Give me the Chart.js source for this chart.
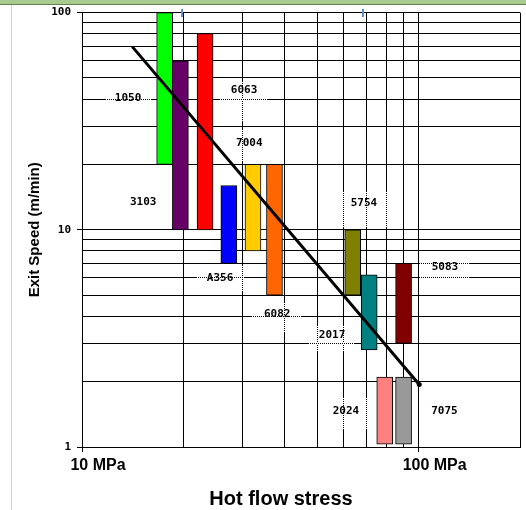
<!DOCTYPE html>
<html lang="en">
<head>
    <meta charset="UTF-8">
    <title>Exit speed vs hot flow stress</title>
    <script src="https://cdn.jsdelivr.net/npm/chart.js@4"></script>
    <style>
        body {
            margin: 0;
            background: #fff;
        }

        #wrap {
            position: relative;
            width: 526px;
            height: 510px;
        }

        #sheetBar {
            position: absolute;
            left: 0;
            top: 0;
            width: 526px;
            height: 4px;
            background: #a9ca8e;
            border-bottom: 1px solid #62804a;
        }

        #sheetEdge {
            position: absolute;
            left: 11px;
            top: 5px;
            width: 1px;
            height: 505px;
            background: #d0d0d0;
        }

        .mark {
            position: absolute;
            top: 9px;
            width: 2px;
            height: 8px;
            background: #5b8fd6;
        }
    </style>
</head>
<body>
<div id="wrap">
    <canvas id="chart" width="526" height="510"></canvas>
    <div id="sheetBar"></div>
    <div id="sheetEdge"></div>
    <div class="mark" style="left:181px"></div>
    <div class="mark" style="left:362px"></div>
</div>
<script>
    // alloys, in order of flow stress
    const alloys     = ['1050', '3103', '6063', 'A356', '7004', '6082', '5754', '2017', '2024', '5083', '7075'];
    const flowStress = [17.6, 19.6, 23.2, 27.3, 32.2, 37.3, 63.7, 71.3, 79.3, 90.2, 90.2];   // MPa
    const speedLow   = [20, 10, 10, 7, 8, 5, 5, 2.8, 1.03, 3, 1.03];                         // m/min
    const speedHigh  = [100, 60, 80, 16, 20, 20, 10, 6.2, 2.1, 7, 2.1];
    const barColors  = ['#00ff00', '#660066', '#ff0000', '#0000ff', '#ffcc00', '#ff6600',
                        '#808000', '#008080', '#ff8080', '#800000', '#999999'];

    // trend line
    const trendStress = [14.1, 100.4];
    const trendSpeed  = [69.7, 1.94];

    // axes
    const xGrid = [10, 20, 30, 40, 50, 60, 70, 80, 90, 100, 200];
    const yGrid = [1, 2, 3, 4, 5, 6, 7, 8, 9, 10, 20, 30, 40, 50, 60, 70, 80, 90, 100];
    const xLabelValues = [10, 100];
    const xLabelText   = ['10 MPa', '100 MPa'];
    const yLabelValues = [1, 10, 100];
    const xTitle = 'Hot flow stress';
    const yTitle = 'Exit Speed (m/min)';

    // alloy name boxes (data coords): text centre, and area where grid lines look dotted
    const labelX = [13.7, 15.2, 30.3, 25.7, 31.4, 38.0, 68.8, 55.3, 60.8, 119.7, 119.3];
    const labelY = [40.3, 13.4, 43.8, 5.98, 25.1, 4.08, 13.3, 3.28, 1.47, 6.72, 1.47];
    const labelBoxes = [
        [11.8, 16.06, 36.4, 45.0],
        null,
        [25.7, 35.5, 31.4, 47.9],
        [22.0, 30.5, 5.17, 6.82],
        [28.5, 34.5, 20.5, 28.8],
        [32.0, 44.8, 3.39, 4.6],
        [58.0, 81.6, 10.2, 14.9],
        [47.3, 64.3, 2.74, 3.61],
        [58.0, 71.2, 1.2, 1.68],
        [100.9, 141, 5.75, 7.42],
        null
    ];

    const alloyLabels = {
        id: 'alloyLabels',
        beforeDatasetsDraw(chart) {
            const {ctx, scales: {x, y}} = chart;
            const align = p => Math.round(p - 0.5) + 0.5;
            ctx.save();
            ctx.strokeStyle = '#fff';
            ctx.lineWidth = 1.4;
            ctx.setLineDash([1, 1]);
            ctx.beginPath();
            labelBoxes.forEach(b => {
                if (!b) return;
                const x1 = Math.round(x.getPixelForValue(b[0]));
                const x2 = Math.round(x.getPixelForValue(b[1]));
                const y1 = Math.round(y.getPixelForValue(b[3]));
                const y2 = Math.round(y.getPixelForValue(b[2]));
                xGrid.forEach(v => {
                    if (v > b[0] && v < b[1]) {
                        const px = align(x.getPixelForValue(v));
                        ctx.moveTo(px, y1);
                        ctx.lineTo(px, y2);
                    }
                });
                yGrid.forEach(v => {
                    if (v > b[2] && v < b[3]) {
                        const py = align(y.getPixelForValue(v));
                        ctx.moveTo(x1, py);
                        ctx.lineTo(x2, py);
                    }
                });
            });
            ctx.stroke();
            ctx.restore();
        },
        afterDatasetsDraw(chart) {
            const {ctx, scales: {x, y}} = chart;
            ctx.save();
            ctx.fillStyle = '#000';
            ctx.font = 'bold 11px "DejaVu Sans Mono"';
            ctx.textAlign = 'center';
            ctx.textBaseline = 'middle';
            alloys.forEach((name, i) => {
                ctx.fillText(name, x.getPixelForValue(labelX[i]), y.getPixelForValue(labelY[i]));
            });
            ctx.font = 'bold 20px "Liberation Sans"';
            ctx.textBaseline = 'alphabetic';
            ctx.fillText(xTitle, 281, 505);
            ctx.restore();
        }
    };

    const tickColor = c => (c.tick && c.tick.major) ? '#000' : 'rgba(0,0,0,0)';

    new Chart(document.getElementById('chart'), {
        type: 'bar',
        data: {
            datasets: [{
                type: 'line',
                data: trendStress.map((s, i) => ({x: s, y: trendSpeed[i]})),
                borderColor: '#000',
                borderWidth: 3,
                pointRadius: [0, 2.5],
                pointBackgroundColor: '#000',
                pointBorderWidth: 0,
                order: 0
            }, {
                data: flowStress.map((s, i) => ({x: s, y: [speedLow[i], speedHigh[i]]})),
                backgroundColor: barColors,
                borderColor: '#000',
                borderWidth: 1,
                borderSkipped: false,
                barThickness: 16,
                order: 1
            }]
        },
        options: {
            responsive: false,
            animation: false,
            layout: {padding: {left: 0, top: 12, right: 6, bottom: 0}},
            plugins: {
                legend: {display: false},
                tooltip: {enabled: false}
            },
            scales: {
                x: {
                    type: 'logarithmic',
                    min: 10,
                    max: 200,
                    offset: false,
                    afterBuildTicks: s => {
                        s.ticks = xGrid.map(v => ({value: v, major: xLabelValues.includes(v)}));
                    },
                    afterFit: s => { s.height = 63; },
                    grid: {color: '#000', lineWidth: 1, offset: false, tickLength: 5, tickColor: tickColor},
                    border: {color: '#000', width: 1},
                    ticks: {
                        autoSkip: false,
                        maxRotation: 0,
                        padding: 4,
                        labelOffset: 16,
                        color: '#000',
                        font: {family: 'Liberation Sans', size: 16, weight: 'bold'},
                        callback: v => {
                            const i = xLabelValues.indexOf(v);
                            return i < 0 ? '' : xLabelText[i];
                        }
                    }
                },
                y: {
                    type: 'logarithmic',
                    min: 1,
                    max: 100,
                    afterBuildTicks: s => {
                        s.ticks = yGrid.map(v => ({value: v, major: yLabelValues.includes(v)}));
                    },
                    afterFit: s => { s.width = 82; },
                    grid: {color: '#000', lineWidth: 1, tickLength: 5, tickColor: tickColor},
                    border: {color: '#000', width: 1},
                    ticks: {
                        autoSkip: false,
                        padding: 6,
                        color: '#000',
                        font: {family: 'DejaVu Sans Mono', size: 11, weight: 'bold'},
                        callback: v => yLabelValues.includes(v) ? String(v) : ''
                    },
                    title: {
                        display: true,
                        text: yTitle,
                        color: '#000',
                        padding: {top: 26, bottom: 0},
                        font: {family: 'Liberation Sans', size: 15, weight: 'bold'}
                    }
                }
            }
        },
        plugins: [alloyLabels]
    });
</script>
</body>
</html>
